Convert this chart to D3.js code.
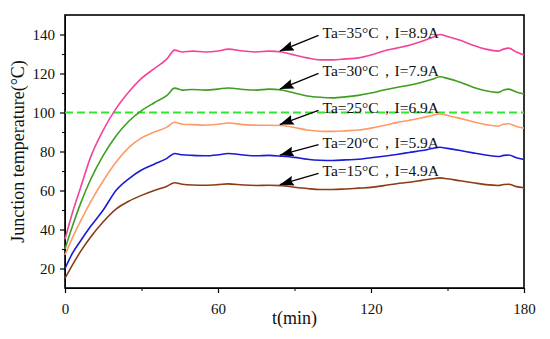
<!DOCTYPE html>
<html>
<head>
<meta charset="utf-8">
<script src="https://cdn.jsdelivr.net/npm/d3@7"></script>
<style>
  body { margin: 0; background: #fff; }
  text { font-family: "Liberation Serif", "Times New Roman", serif; }
</style>
</head>
<body>
<div id="chart"></div>
<script>
// time axis (min), shared by all curves
const time = [0, 3, 6, 10, 15, 20, 25, 30, 35, 40, 43, 46, 50, 55, 60, 64, 70, 75, 80, 85,
  90, 95, 100, 105, 110, 115, 120, 125, 130, 135, 140, 144, 147, 150, 155, 160, 165, 170, 172, 174, 177, 180];

// junction temperature for each ambient temperature / current
const ta35 = [35, 49, 61, 77, 91, 102, 110.5, 117.5, 122.5, 127.5, 132, 131, 131.5, 131, 131.5, 132.5, 131.5, 131, 131.5, 131,
  129.5, 128, 127, 127, 127.5, 128, 129.5, 131.5, 133, 134.5, 136.5, 138.5, 140, 139, 137, 134.5, 132.5, 131.5, 132.5, 133, 131, 129.5];
const ta30 = [30, 42, 53, 65.5, 78, 88, 95.5, 101, 105, 108.8, 112.5, 111.5, 111.8, 111.5, 112, 112.6, 111.8, 111.5, 112, 111.5,
  110, 108.5, 107.8, 107.5, 108, 108.8, 110, 111.5, 112.8, 114, 115.5, 117, 118.3, 117.5, 115.5, 113, 111.2, 110.3, 111.5, 112, 110.5, 109.5];
const ta25 = [27, 36, 44, 54, 65, 74.5, 82, 87, 90, 92.5, 95, 94, 93.8, 93.5, 94, 94.6, 93.8, 93.5, 93.5, 93.3,
  92.3, 91, 90.4, 90.3, 90.6, 91, 92, 93.3, 94.8, 96, 97.3, 98.5, 99.3, 98.5, 97, 95.3, 93.8, 93, 94, 94.2, 92.8, 92];
const ta20 = [20, 28, 34, 41.5, 50, 60, 66, 70.5, 73.5, 76.5, 79, 78.3, 78, 77.8, 78.3, 79, 78.2, 77.8, 78, 77.6,
  77, 76, 75.5, 75.4, 75.7, 76, 76.8, 77.6, 78.5, 79.5, 80.5, 81.5, 82.2, 81.6, 80.5, 79.3, 78.2, 77.4, 78, 78.2, 76.8, 75.9];
const ta15 = [15, 22, 28.5, 36, 44, 50.5, 54.5, 57.5, 60, 62.2, 64, 63.2, 62.8, 62.7, 63, 63.4, 62.8, 62.6, 62.7, 62.5,
  61.7, 61, 60.5, 60.5, 60.8, 61.2, 61.6, 62.5, 63.5, 64.2, 65.2, 66, 66.5, 66, 65, 64, 63, 62.6, 63.1, 63.2, 62, 61.4];

const seriesNames = ["Ta=35°C，I=8.9A", "Ta=30°C，I=7.9A", "Ta=25°C，I=6.9A", "Ta=20°C，I=5.9A", "Ta=15°C，I=4.9A"];
const seriesColors = ["#f4429c", "#3e9e1e", "#ff9a66", "#1a1ad8", "#8c3c14"];
const labelValues = [138, 118.5, 99.5, 82, 67.2];   // where each label sits
const arrowTime = 85;   // arrows point at the curves here
const labelTime = 101;

const xTicks = [0, 60, 120, 180];
const yTicks = [20, 40, 60, 80, 100, 120, 140];
const limit = 100;

const width = 550, height = 339;
const margin = { top: 15, right: 26, bottom: 51, left: 65 };

const svg = d3.select("#chart").append("svg")
  .attr("width", width)
  .attr("height", height);

const x = d3.scaleLinear().domain([0, 180]).range([margin.left, width - margin.right]);
const y = d3.scaleLinear().domain([10, 150]).range([height - margin.bottom, margin.top]);

// minor ticks
svg.append("g")
  .attr("transform", `translate(0,${height - margin.bottom})`)
  .call(d3.axisBottom(x).tickValues([30, 90, 150]).tickSize(3).tickFormat(""))
  .call(g => g.select(".domain").remove());
svg.append("g")
  .attr("transform", `translate(${margin.left},0)`)
  .call(d3.axisLeft(y).tickValues([30, 50, 70, 90, 110, 130]).tickSize(3).tickFormat(""))
  .call(g => g.select(".domain").remove());

const xAxis = svg.append("g")
  .attr("transform", `translate(0,${height - margin.bottom})`)
  .call(d3.axisBottom(x).tickValues(xTicks).tickSize(5).tickSizeOuter(0).tickPadding(10));
const yAxis = svg.append("g")
  .attr("transform", `translate(${margin.left},0)`)
  .call(d3.axisLeft(y).tickValues(yTicks).tickSize(5).tickSizeOuter(0).tickPadding(5));

[xAxis, yAxis].forEach(g => {
  g.selectAll("text").attr("font-size", 15).attr("fill", "#111")
    .attr("font-family", "Liberation Serif, serif");
  g.selectAll("line").attr("stroke-width", 1.2);
});
svg.selectAll(".tick line").attr("stroke", "#000");

// frame
svg.append("rect")
  .attr("x", margin.left).attr("y", margin.top)
  .attr("width", width - margin.left - margin.right)
  .attr("height", height - margin.top - margin.bottom)
  .attr("fill", "none").attr("stroke", "#000").attr("stroke-width", 1.6);

// 100 degree limit
svg.append("line")
  .attr("x1", x(0)).attr("x2", x(180))
  .attr("y1", y(limit)).attr("y2", y(limit))
  .attr("stroke", "#2ee82e").attr("stroke-width", 2)
  .attr("stroke-dasharray", "8,4");

const allSeries = [ta35, ta30, ta25, ta20, ta15];
const line = d3.line().x((d, i) => x(time[i])).y(d => y(d)).curve(d3.curveMonotoneX);

svg.append("g").selectAll("path")
  .data(allSeries)
  .join("path")
  .attr("d", line)
  .attr("fill", "none")
  .attr("stroke", (d, i) => seriesColors[i])
  .attr("stroke-width", 1.6);

svg.append("defs").append("marker")
  .attr("id", "head")
  .attr("markerUnits", "userSpaceOnUse")
  .attr("viewBox", "0 0 14 10")
  .attr("refX", 0).attr("refY", 5)
  .attr("markerWidth", 14).attr("markerHeight", 10)
  .attr("orient", "auto")
  .append("path")
  .attr("d", "M0,5L14,0L12,5L14,10Z")
  .attr("fill", "#000");

const ann = svg.append("g");
allSeries.forEach((s, i) => {
  const k = time.indexOf(arrowTime);
  const tx = x(labelTime), ty = y(labelValues[i]);
  ann.append("line")
    .attr("x1", x(arrowTime) - 2).attr("y1", y(s[k]) - 1)
    .attr("x2", tx - 4).attr("y2", ty - 3)
    .attr("stroke", "#000").attr("stroke-width", 1.3)
    .attr("marker-start", "url(#head)");
  ann.append("text")
    .attr("x", tx).attr("y", ty)
    .attr("font-size", 15.5)
    .attr("fill", "#111")
    .text(seriesNames[i]);
});

svg.append("text")
  .attr("x", (x(0) + x(180)) / 2).attr("y", 324)
  .attr("text-anchor", "middle")
  .attr("font-size", 18).attr("fill", "#111")
  .text("t(min)");

svg.append("text")
  .attr("transform", `translate(24,${(y(10) + y(150)) / 2}) rotate(-90)`)
  .attr("text-anchor", "middle")
  .attr("font-size", 18).attr("fill", "#111")
  .text("Junction temperature(°C)");
</script>
</body>
</html>
